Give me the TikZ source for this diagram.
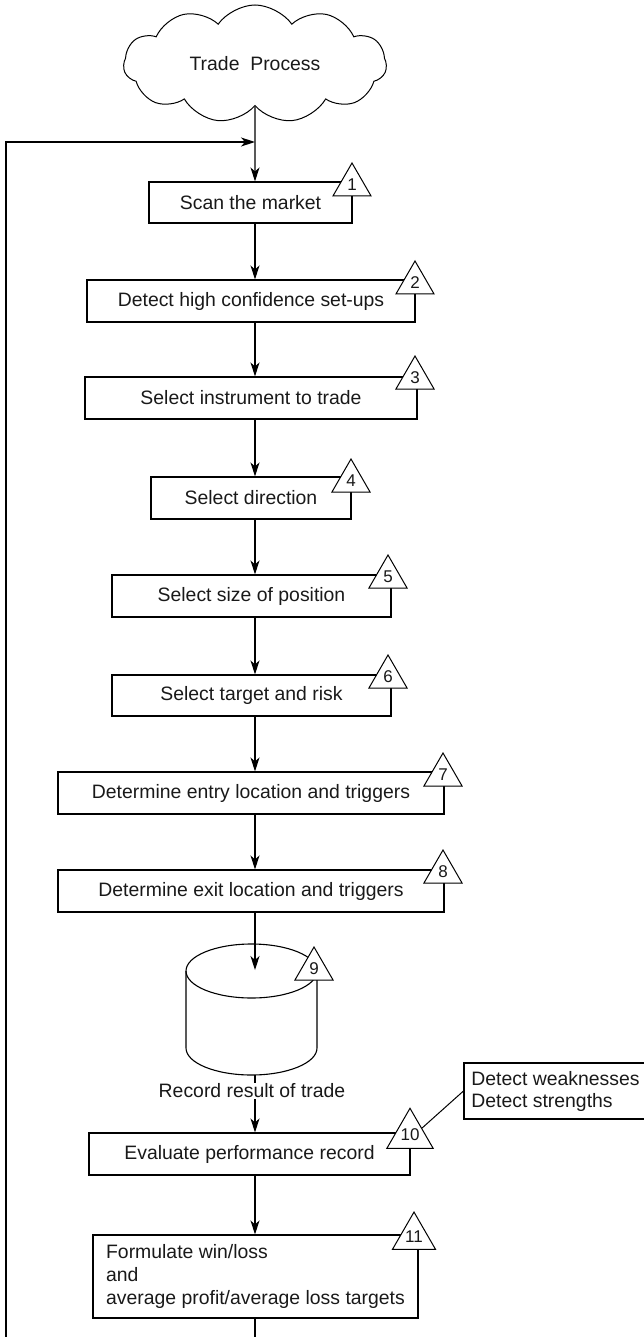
\documentclass[tikz,border=0pt]{standalone}
\usepackage{fontspec}
\setmainfont{Liberation Sans}
\usetikzlibrary{shapes.geometric,shapes.symbols,arrows.meta}
\begin{document}
\begin{tikzpicture}[x=1pt,y=-1pt,
  every node/.style={font=\fontsize{19.4}{23}\selectfont, text=black!90},
  box/.style={draw, line width=1.1pt, minimum height=42pt, inner sep=0pt},
  tri/.style={draw, fill=white, line width=1pt, regular polygon, regular polygon sides=3,
              minimum size=44pt, inner sep=0pt, font=\fontsize{17}{17}\selectfont},
  arr/.style={line width=1.1pt, -{Stealth[length=14pt,width=9pt,inset=4pt]}},
  ln/.style={line width=1.1pt}]
\useasboundingbox (0,0) rectangle (644,1337);
\clip (0,0) rectangle (644,1337);
\coordinate (sp) at (255,0);

% cloud
\node[cloud, draw, line width=1pt, cloud puffs=11, cloud puff arc=110, cloud ignores aspect,
      minimum width=263pt, minimum height=118pt, inner sep=0pt] (cloud) at (255,64) {Trade\ \ Process};

% boxes
\node[box, minimum width=203pt, minimum height=41pt] (b1) at (250.5,202.5) {Scan the market};
\node[box, minimum width=328pt] (b2) at (251,301) {Detect high confidence set-ups};
\node[box, minimum width=332pt] (b3) at (251,398) {Select instrument to trade};
\node[box, minimum width=200pt] (b4) at (251,498) {Select direction};
\node[box, minimum width=279pt] (b5) at (251.5,596) {Select size of position};
\node[box, minimum width=279pt, minimum height=41pt] (b6) at (251.5,695.5) {Select target and risk};
\node[box, minimum width=386pt] (b7) at (251,793) {Determine entry location and triggers};
\node[box, minimum width=386pt] (b8) at (251,891) {Determine exit location and triggers};
\node[box, minimum width=321pt] (b10) at (249.5,1154) {Evaluate performance record};
\node[box, minimum width=325pt, minimum height=83pt, align=left] (b11) at (255.5,1276.5)
  {Formulate win/loss\\and\\average profit/average loss targets};
\node[box, minimum width=183pt, minimum height=56pt, align=left,
      font=\fontsize{19.4}{22}\selectfont] (cb) at (555.5,1091)
  {Detect weaknesses\\Detect strengths};

% cylinder (record)
\coordinate (cyltop) at (255,970);
\coordinate (cylbot) at (255,1075);
\draw[ln] (186,971) -- (186,1048) arc[start angle=180, end angle=0, x radius=65.5, y radius=27] -- (317,971);
\draw[ln] (251.5,971) ellipse [x radius=65.5, y radius=27];

% arrows
\draw[arr] (cloud.south) -- (b1.north -| sp);
\draw[arr] (b1.south -| sp) -- (b2.north -| sp);
\draw[arr] (b2.south -| sp) -- (b3.north -| sp);
\draw[arr] (b3.south -| sp) -- (b4.north -| sp);
\draw[arr] (b4.south -| sp) -- (b5.north -| sp);
\draw[arr] (b5.south -| sp) -- (b6.north -| sp);
\draw[arr] (b6.south -| sp) -- (b7.north -| sp);
\draw[arr] (b7.south -| sp) -- (b8.north -| sp);
\draw[arr] (b8.south -| sp) -- (cyltop);
\draw[arr] (cylbot) -- (b10.north -| sp);
\node[fill=white, inner sep=0.5pt] (rec) at (252,1091) {Record result of trade};
\draw[arr] (b10.south -| sp) -- (b11.north -| sp);

% feedback loop
\coordinate (sb) at (255,1350);
\coordinate (lb) at (6,1350);
\coordinate (lt) at (6,142);
\coordinate (sj) at (255,142);
\draw[arr] (b11.south -| sp) -- (sb) -- (lb) -- (lt) -- (sj);

% triangles
\node[tri] (t1) at (352,185) {1};
\node[tri] (t2) at (415,283) {2};
\node[tri] (t3) at (415,378) {3};
\node[tri] (t4) at (351,481) {4};
\node[tri] (t5) at (388,577) {5};
\node[tri] (t6) at (388,677) {6};
\node[tri] (t7) at (443,775) {7};
\node[tri] (t8) at (443,872) {8};
\node[tri] (t9) at (314,969) {9};
\node[tri] (t10) at (410,1135) {10};
\node[tri] (t11) at (414,1237) {11};

\draw[line width=1pt] (t10.side 3) -- (cb.west);
\end{tikzpicture}
\end{document}
